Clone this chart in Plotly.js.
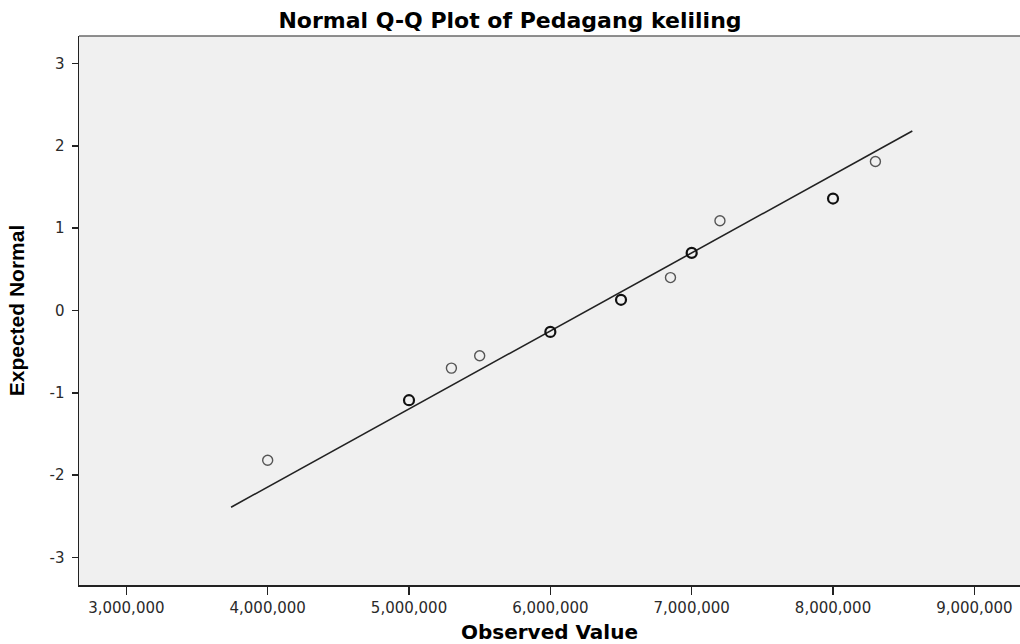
<!DOCTYPE html>
<html>
<head>
<meta charset="utf-8">
<script src="https://cdn.plot.ly/plotly-3.0.1.min.js"></script>
<style>
  html, body { margin: 0; padding: 0; background: #ffffff; overflow: hidden; }
  #chart { width: 1020px; height: 644px; }
</style>
</head>
<body>
<div id="chart"></div>
<script>
// Observed values (Pedagang keliling) and expected normal scores
var observedValue = [4000000, 5000000, 5300000, 5500000, 6000000, 6500000, 6850000, 7000000, 7200000, 8000000, 8300000];
var expectedNormal = [-1.82, -1.09, -0.70, -0.55, -0.26, 0.13, 0.40, 0.70, 1.09, 1.36, 1.81];
// number of cases sharing each plotted point (overlapping circles look darker)
var caseCount = [1, 2, 1, 1, 2, 2, 1, 2, 1, 2, 1];

// Reference line (normal distribution line) end points
var refLineX = [3741000, 8561000];
var refLineY = [-2.39, 2.18];

var xTickVals = [3000000, 4000000, 5000000, 6000000, 7000000, 8000000, 9000000];
var xTickText = ["3,000,000", "4,000,000", "5,000,000", "6,000,000", "7,000,000", "8,000,000", "9,000,000"];
var yTickVals = [-3, -2, -1, 0, 1, 2, 3];
var yTickText = ["-3", "-2", "-1", "0", "1", "2", "3"];

var markerLineWidths = caseCount.map(function (c) { return c > 1 ? 2.2 : 1.4; });
var markerLineColors = caseCount.map(function (c) { return c > 1 ? "#111111" : "#555555"; });

var traces = [
  {
    x: refLineX,
    y: refLineY,
    type: "scatter",
    mode: "lines",
    line: { color: "#222222", width: 1.6 },
    hoverinfo: "skip",
    showlegend: false
  },
  {
    x: observedValue,
    y: expectedNormal,
    type: "scatter",
    mode: "markers",
    marker: {
      symbol: "circle-open",
      size: 10,
      color: markerLineColors,
      line: { width: markerLineWidths, color: markerLineColors }
    },
    showlegend: false
  }
];

var tickFont = { family: "DejaVu Sans", size: 15, color: "#2a2a2a" };

var layout = {
  width: 1020,
  height: 644,
  margin: { l: 79, r: 0, t: 36, b: 59, pad: 0 },
  paper_bgcolor: "#ffffff",
  plot_bgcolor: "#f0f0f0",
  showlegend: false,
  title: {
    text: "<b>Normal Q-Q Plot of Pedagang keliling</b>",
    font: { family: "DejaVu Sans", size: 22, color: "#000000" },
    x: 510 / 1020,
    xanchor: "center",
    xref: "container",
    y: 1 - 20 / 644,
    yanchor: "middle",
    yref: "container"
  },
  xaxis: {
    range: [2665000, 9323000],
    tickmode: "array",
    tickvals: xTickVals,
    ticktext: xTickText,
    ticks: "outside",
    ticklen: 8,
    tickwidth: 1.5,
    tickcolor: "#222222",
    tickfont: tickFont,
    showgrid: false,
    zeroline: false,
    showline: true,
    linecolor: "#222222",
    linewidth: 1.5,
    title: {
      text: "<b>Observed Value</b>",
      font: { family: "DejaVu Sans", size: 20, color: "#000000" },
      standoff: 9
    }
  },
  yaxis: {
    range: [-3.335, 3.335],
    tickmode: "array",
    tickvals: yTickVals,
    ticktext: yTickText,
    ticks: "outside",
    ticklen: 6,
    tickwidth: 1.5,
    tickcolor: "#222222",
    tickfont: tickFont,
    ticklabelstandoff: 4,
    showgrid: false,
    zeroline: false,
    showline: true,
    linecolor: "#222222",
    linewidth: 1.5,
    title: {
      text: "<b>Expected Normal</b>",
      font: { family: "Liberation Sans", size: 21, color: "#000000" },
      standoff: 19
    }
  },
  shapes: [
    {
      type: "line",
      xref: "paper", yref: "paper",
      x0: 0, x1: 1, y0: 1, y1: 1,
      line: { color: "#6a6a6a", width: 1.5 }
    }
  ]
};

Plotly.newPlot("chart", traces, layout, { displayModeBar: false, staticPlot: true });
</script>
</body>
</html>
